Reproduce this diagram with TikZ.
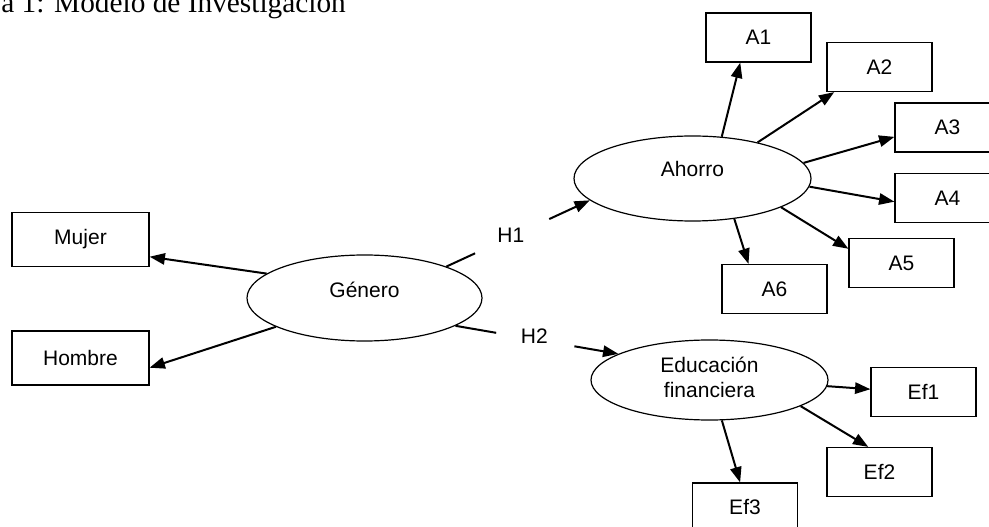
\documentclass[tikz,border=0pt]{standalone}
\usepackage{fontspec}
\setmainfont{Liberation Sans}
\newfontfamily\titlefont{Liberation Serif}
\usetikzlibrary{shapes.geometric,arrows.meta}
\begin{document}
\begin{tikzpicture}[x=0.75pt,y=-0.75pt,
  every node/.style={font=\fontsize{15.75}{18.75}\selectfont},
  box/.style={draw, line width=0.9pt, minimum width=78.75pt, minimum height=36.75pt, inner sep=0pt},
  bigbox/.style={box, minimum width=102.75pt, minimum height=40pt},
  latent/.style={draw, ellipse, line width=0.9pt, inner sep=0pt},
  txt/.style={inner sep=0pt, align=center},
  arr/.style={line width=1.5pt, -{Triangle[length=11.5pt,width=8.5pt]}},
  seg/.style={line width=1.5pt}]
\useasboundingbox (0,0) rectangle (989,527);
\clip (0,0) rectangle (989,527);

% title
\node[anchor=base west, inner sep=0pt, font=\titlefont\fontsize{22}{26}\selectfont] (title) at (1,13) {a 1: Modelo de Investigación};

% latent variables
\node[latent, minimum width=176.25pt, minimum height=64.5pt] (genero) at (364.5,298) {};
\node[txt] (generot) at (364.5,290) {Género};
\node[latent, minimum width=177.75pt, minimum height=63.75pt] (ahorro) at (692.5,178.5) {};
\node[txt] (ahorrot) at (692.5,169) {Ahorro};
\node[latent, minimum width=177.75pt, minimum height=60pt] (edu) at (709.5,380) {};
\node[txt] (edut) at (709.5,377.5) {Educación\\financiera};

% indicators
\node[bigbox] (mujer) at (80.5,239.5) {Mujer};
\node[bigbox, minimum height=40.5pt] (hombre) at (80.5,358) {Hombre};
\node[box] (a1) at (758.5,37.5) {A1};
\node[box] (a2) at (879.5,67) {A2};
\node[box] (a3) at (947.5,127.5) {A3};
\node[box] (a4) at (947.5,198) {A4};
\node[box] (a5) at (901.5,263) {A5};
\node[box] (a6) at (774.5,289) {A6};
\node[box] (ef1) at (923.5,392) {Ef1};
\node[box] (ef2) at (879.5,472) {Ef2};
\node[box] (ef3) at (745,507.5) {Ef3};

% Genero -> Mujer / Hombre
\draw[arr] (genero.166.7) -- (mujer.346.6);
\draw[arr] (genero.198) -- (hombre.352.6);

% H1 and H2
\path (genero.21.2) -- (ahorro.192.6)
  coordinate[pos=0.2] (h1a) coordinate[pos=0.717] (h1b)
  node[pos=0.45, yshift=1pt, txt] (h1) {H1};
\draw[seg] (genero.21.2) -- (h1a);
\draw[arr] (h1b) -- (ahorro.192.6);

\path (genero.343.2) -- (edu.164.5)
  coordinate[pos=0.25] (h2a) coordinate[pos=0.73] (h2b)
  node[pos=0.484, yshift=2.25pt, txt] (h2) {H2};
\draw[seg] (genero.343.2) -- (h2a);
\draw[arr] (h2b) -- (edu.164.5);

% Ahorro indicators
\draw[arr] (ahorro.55) -- (a1.234.5);
\draw[arr] (ahorro.29.1) -- (a2.209.3);
\draw[arr] (ahorro.8.4) -- (a3.190.3);
\draw[arr] (ahorro.356.4) -- (a4.184.4);
\draw[arr] (ahorro.342.7) -- (a5.165.3);
\draw[arr] (ahorro.316.9) -- (a6.136.7);

% Educacion indicators
\draw[arr] (edu.357.1) -- (ef1.177.8);
\draw[arr] (edu.344.5) -- (ef2.114.7);
\draw[arr] (edu.287.4) -- (ef3.101.5);
\end{tikzpicture}
\end{document}
